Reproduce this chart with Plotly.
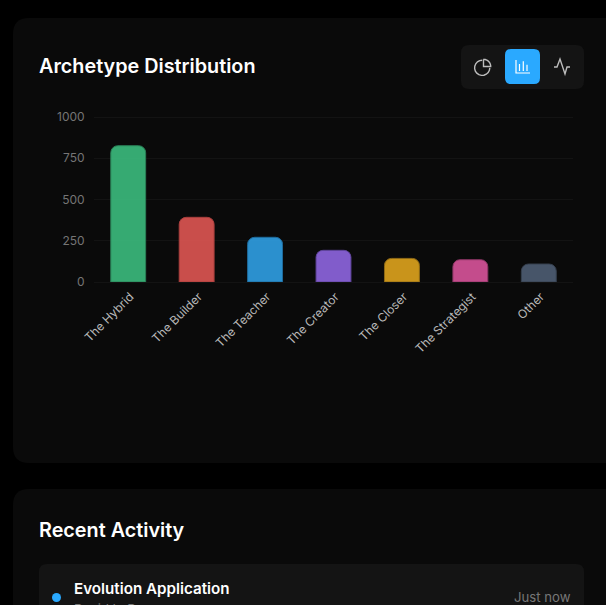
import math
import plotly.graph_objects as go

W, H = 606, 605

categories = ["The Hybrid", "The Builder", "The Teacher", "The Creator", "The Closer", "The Strategist", "Other"]
counts = [826, 392, 271, 192, 143, 135, 109]
bar_colors = ["rgba(65,210,140,0.8)", "rgba(249,95,91,0.8)", "rgba(51,178,255,0.8)", "rgba(159,113,251,0.8)",
              "rgba(249,183,31,0.8)", "rgba(243,93,173,0.8)", "rgba(86,104,129,0.8)"]
bar_borders = ["#2A7F57", "#A83F3D", "#1F6B9C", "#5F449A", "#8F6A16", "#8E3766", "#36404F"]
y_ticks = [0, 250, 500, 750, 1000]


def px(x):
    return x / W


def py(y):
    return 1 - y / H


def rrect(x0, y0, x1, y1, r, fill):
    path = (
        f"M {px(x0 + r)} {py(y0)} L {px(x1 - r)} {py(y0)} Q {px(x1)} {py(y0)} {px(x1)} {py(y0 + r)} "
        f"L {px(x1)} {py(y1 - r)} Q {px(x1)} {py(y1)} {px(x1 - r)} {py(y1)} "
        f"L {px(x0 + r)} {py(y1)} Q {px(x0)} {py(y1)} {px(x0)} {py(y1 - r)} "
        f"L {px(x0)} {py(y0 + r)} Q {px(x0)} {py(y0)} {px(x0 + r)} {py(y0)} Z"
    )
    return dict(type="path", xref="paper", yref="paper", path=path, fillcolor=fill,
                line=dict(width=0), layer="below")


def stroke(points, color, width=1.4):
    p = "M " + " L ".join(f"{px(x)} {py(y)}" for x, y in points)
    return dict(type="path", xref="paper", yref="paper", path=p,
                line=dict(color=color, width=width), layer="above")


def arc_pts(cx, cy, r, a0, a1):
    n = 14
    return [(cx + r * math.cos(math.radians(a0 + (a1 - a0) * i / n)),
             cy + r * math.sin(math.radians(a0 + (a1 - a0) * i / n))) for i in range(n + 1)]


ICON = "#BDBDBD"
shapes = [
    rrect(13, 18, 622, 463, 16, "#0A0A0A"),
    rrect(13, 489, 622, 700, 16, "#0A0A0A"),
    rrect(39, 564, 584, 700, 8, "#141414"),
    rrect(461, 45, 584, 89, 8, "#141414"),
    rrect(505, 49, 540, 84, 6, "#2AA9FF"),
    # pie icon
    stroke(arc_pts(482.2, 67.8, 7.6, 0, 270), ICON),
    stroke(arc_pts(483.5, 66.5, 7.2, -90, 0) + [(483.5, 66.5), (483.5, 59.3)], ICON),
    # bar icon
    stroke([(516, 60), (516, 73), (530, 73)], "#FFFFFF", 1.2),
    stroke([(519.5, 71), (519.5, 64)], "#FFFFFF", 1.2),
    stroke([(523.3, 71), (523.3, 61.3)], "#FFFFFF", 1.2),
    stroke([(527, 71), (527, 64.7)], "#FFFFFF", 1.2),
    # pulse icon
    stroke([(554, 67), (557, 67), (560, 59), (565, 74), (567, 67), (570, 67)], ICON),
    # activity dot
    dict(type="circle", xref="paper", yref="paper", x0=px(52), x1=px(61), y0=py(602), y1=py(593),
         fillcolor="#2AA9FF", line=dict(width=0), layer="above"),
]

FONT = "Inter, sans-serif"


def label(x, y, text, size, color, weight=400, anchor="left"):
    return dict(xref="paper", yref="paper", x=px(x), y=py(y), text=text, showarrow=False,
                xanchor=anchor, yanchor="middle", borderpad=0, borderwidth=0,
                font=dict(family=FONT, size=size, color=color, weight=weight))


annotations = [
    label(39, 66, "Archetype Distribution", 19.8, "#FFFFFF", 600),
    label(39, 530, "Recent Activity", 19.8, "#FFFFFF", 600),
    label(74, 588, "Evolution Application", 15.2, "#FFFFFF", 600),
    label(74, 609, "David L. D.", 13, "#777777"),
    label(571, 597, "Just now", 13.2, "#777777", anchor="right"),
]

fig = go.Figure(go.Bar(
    x=categories, y=counts, width=0.51,
    marker=dict(color=bar_colors, line=dict(color=bar_borders, width=1), cornerradius=7),
    hoverinfo="skip",
))

fig.update_layout(
    width=W, height=H, autosize=False,
    margin=dict(l=0, r=0, t=0, b=0),
    paper_bgcolor="#000000", plot_bgcolor="rgba(0,0,0,0)",
    showlegend=False, shapes=shapes, annotations=annotations,
    font=dict(family=FONT),
    xaxis=dict(domain=[px(94), px(573)], tickangle=-45, showgrid=False, zeroline=False,
               showline=False, ticks="outside", ticklen=2, tickcolor="rgba(0,0,0,0)",
               ticklabelshift=2,
               tickfont=dict(family=FONT, size=12, color="#B8B8B8"), automargin=False),
    yaxis=dict(domain=[py(282), py(115.35)], range=[0, 1010], tickvals=y_ticks, showline=False,
               gridcolor="#131313", gridwidth=1, zeroline=True, zerolinecolor="#131313", zerolinewidth=1,
               ticks="outside", ticklen=6, tickcolor="rgba(0,0,0,0)",
               tickfont=dict(family=FONT, size=12, color="#757575"), automargin=False),
)

fig.write_html("out.html", config=dict(displayModeBar=False),
               post_script="document.documentElement.style.background='#000';document.body.style.margin='0';document.body.style.overflow='hidden';")
